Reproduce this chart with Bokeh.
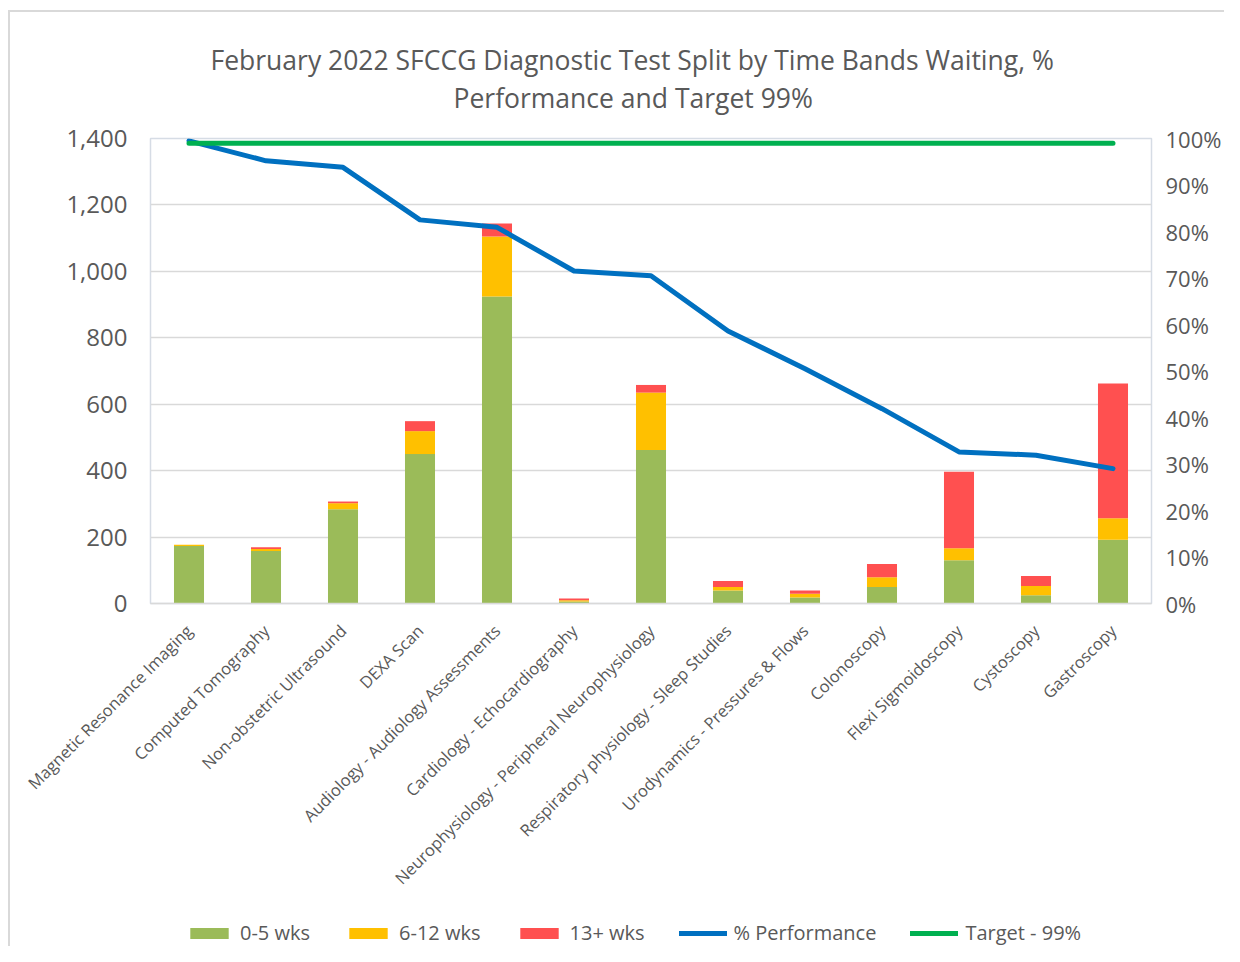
import math
from bokeh.plotting import figure
from bokeh.layouts import column
from bokeh.models import (Range1d, LinearAxis, NumeralTickFormatter, Legend,
                          LegendItem, Title, FixedTicker)
from bokeh.embed import file_html
from bokeh.resources import INLINE

categories = [
    "Magnetic Resonance Imaging",
    "Computed Tomography",
    "Non-obstetric Ultrasound",
    "DEXA Scan",
    "Audiology - Audiology Assessments",
    "Cardiology - Echocardiography",
    "Neurophysiology - Peripheral Neurophysiology",
    "Respiratory physiology - Sleep Studies",
    "Urodynamics - Pressures & Flows",
    "Colonoscopy",
    "Flexi Sigmoidoscopy",
    "Cystoscopy",
    "Gastroscopy",
]
wks_0_5 = [173, 158, 284, 450, 924, 6, 462, 39, 18, 50, 130, 25, 192]
wks_6_12 = [4, 6, 18, 69, 181, 4, 173, 11, 11, 29, 36, 28, 65]
wks_13_plus = [0, 5, 5, 30, 39, 5, 23, 18, 10, 40, 231, 30, 405]
performance = [0.995, 0.952, 0.938, 0.825, 0.809, 0.715, 0.705, 0.586,
               0.505, 0.419, 0.326, 0.319, 0.290]
target = [0.99, 0.99, 0.99, 0.99, 0.99, 0.99, 0.99, 0.99, 0.99, 0.99,
          0.99, 0.99, 0.99]
left_ticks = [0, 200, 400, 600, 800, 1000, 1200, 1400]
right_ticks = [0.0, 0.1, 0.2, 0.3, 0.4, 0.5, 0.6, 0.7, 0.8, 0.9, 1.0]
series_labels = ["0-5 wks", "6-12 wks", "13+ wks", "% Performance", "Target - 99%"]
bar_colors = ["#9BBB59", "#FFC000", "#FF5050"]
perf_color = "#0070C0"
target_color = "#00B050"

FONT = "Open Sans"
TXT = "#595959"

data = {"cat": categories, "a": wks_0_5, "b": wks_6_12, "c": wks_13_plus}

p = figure(x_range=categories, y_range=Range1d(0, 1400),
           width=1224, height=900, output_backend="svg",
           toolbar_location=None,
           min_border_left=150, min_border_right=72,
           min_border_top=138, min_border_bottom=289)
p.x_range.range_padding = 0
p.extra_y_ranges = {"pct": Range1d(0, 1)}
p.border_fill_color = None

bars = p.vbar_stack(["a", "b", "c"], x="cat", width=0.39, source=data,
                    color=bar_colors, line_width=0)
p.line(categories, performance, y_range_name="pct", line_width=5,
       line_color=perf_color, line_cap="round", line_join="round")
p.line(categories, target, y_range_name="pct", line_width=5,
       line_color=target_color, line_cap="round")

# axes
p.yaxis.ticker = FixedTicker(ticks=left_ticks)
p.yaxis.formatter = NumeralTickFormatter(format="0,0")
p.yaxis.axis_line_color = None
p.yaxis.major_tick_line_color = None
p.yaxis.minor_tick_line_color = None
p.yaxis.major_label_text_font = FONT
p.yaxis.major_label_text_font_size = "24px"
p.yaxis.major_label_text_color = TXT
p.yaxis.major_label_standoff = 17

right = LinearAxis(y_range_name="pct", ticker=FixedTicker(ticks=right_ticks),
                   formatter=NumeralTickFormatter(format="0%"))
right.axis_line_color = None
right.major_tick_line_color = None
right.minor_tick_line_color = None
right.major_label_text_font = FONT
right.major_label_text_font_size = "22px"
right.major_label_text_color = TXT
right.major_label_standoff = 8
p.add_layout(right, "right")

p.xaxis.major_label_orientation = math.pi / 4
p.xaxis.axis_line_color = "#d9d9d9"
p.xaxis.axis_line_width = 1.5
p.xaxis.major_tick_line_color = None
p.xaxis.minor_tick_line_color = None
p.xaxis.major_label_text_font = FONT
p.xaxis.major_label_text_font_size = "16.5px"
p.xaxis.major_label_text_color = TXT
p.xaxis.major_label_standoff = 18

p.xgrid.grid_line_color = None
p.ygrid.grid_line_color = "#d9d9d9"
p.ygrid.grid_line_width = 1.5
p.outline_line_color = "#d6dce5"
p.outline_line_width = 1.5

# titles (white spacer first, then the two title lines stacked outward)
p.title = None
spacer = Title(text=".", text_font_size="8px", standoff=16, text_color="#ffffff")
t2 = Title(text="Performance and Target 99%", align="left",
           text_font=FONT, text_font_size="26.5px", text_font_style="normal",
           text_color=TXT, offset=303, standoff=0)
t1 = Title(text="February 2022 SFCCG Diagnostic Test Split by Time Bands Waiting, %",
           align="left", text_font=FONT, text_font_size="26.5px",
           text_font_style="normal", text_color=TXT, offset=60, standoff=0)
p.add_layout(spacer, "above")
p.add_layout(t2, "above")
p.add_layout(t1, "above")

# legend strip below the chart
leg = figure(x_range=categories, y_range=Range1d(0, 1400), width=1224,
             height=46, output_backend="svg", toolbar_location=None,
             min_border=0, x_axis_type=None, y_axis_type=None)
leg.outline_line_color = None
leg.border_fill_color = None
leg.background_fill_color = None
leg.grid.visible = False
leg.extra_y_ranges = {"pct": Range1d(0, 1)}
lb = leg.vbar_stack(["a", "b", "c"], x="cat", width=0.39, source=data,
                    color=bar_colors, line_width=0)
lp = leg.line(categories, performance, y_range_name="pct", line_width=5,
              line_color=perf_color, line_cap="round")
lt = leg.line(categories, target, y_range_name="pct", line_width=5,
              line_color=target_color, line_cap="round")
for r in list(lb) + [lp, lt]:
    r.visible = False

legend = Legend(items=[
    LegendItem(label=series_labels[0], renderers=[lb[0]]),
    LegendItem(label=series_labels[1], renderers=[lb[1]]),
    LegendItem(label=series_labels[2], renderers=[lb[2]]),
    LegendItem(label=series_labels[3], renderers=[lp]),
    LegendItem(label=series_labels[4], renderers=[lt]),
], orientation="horizontal", location=(35, 0))
legend.label_text_font = FONT
legend.label_text_font_size = "20px"
legend.label_text_color = TXT
legend.glyph_width = 48
legend.glyph_height = 14
legend.label_standoff = 7
legend.spacing = 34
legend.border_line_color = None
legend.background_fill_alpha = 0
legend.inactive_fill_alpha = 0
legend.margin = 0
legend.padding = 8
leg.add_layout(legend, "center")

chart_border = ("linear-gradient(#d9d9d9, #d9d9d9) 8px 10px / 2px 100% no-repeat, "
                "linear-gradient(#d9d9d9, #d9d9d9) 8px 10px / 100% 2px no-repeat, "
                "#ffffff")
layout = column(p, leg, styles={"background": chart_border})

open("out.html", "w").write(file_html(layout, INLINE))
